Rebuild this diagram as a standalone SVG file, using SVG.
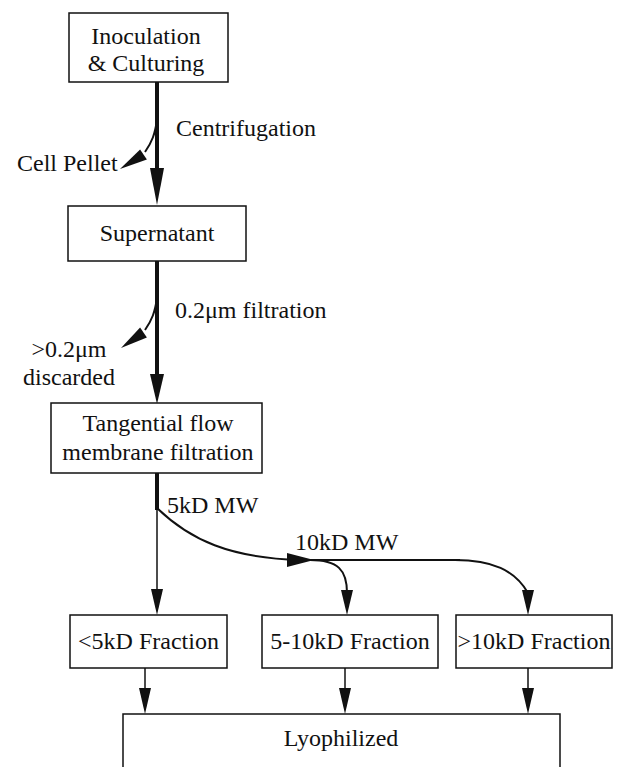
<svg xmlns="http://www.w3.org/2000/svg" width="622" height="767" viewBox="0 0 622 767">
<style>
text{font-family:"Liberation Serif","Times New Roman",serif;font-size:24px;fill:#111}
.c{text-anchor:middle}
.box{fill:#fff;stroke:#111;stroke-width:1.5}
.thick{stroke:#111;stroke-width:4;fill:none}
.med{stroke:#111;stroke-width:2;fill:none}
.thin{stroke:#111;stroke-width:1.5;fill:none}
.head{fill:#111}
</style>
<rect width="622" height="767" fill="#fff"/>
<g id="connectors">
  <line class="thick" x1="157" y1="82" x2="157" y2="172"/>
  <polygon class="head" points="150,168 164,168 157,205"/>
  <path class="med" d="M157,120 C155,134 152,142 145,152"/>
  <polygon class="head" points="146.9,159.4 140.1,149.4 120,169"/>
  <line class="thick" x1="157" y1="261" x2="157" y2="378"/>
  <polygon class="head" points="150,374 164,374 157,404"/>
  <path class="med" d="M157,298 C155,312 152,320 145,330"/>
  <polygon class="head" points="146.9,337.4 140.1,327.4 121,348"/>
  <line class="thick" x1="157" y1="473" x2="157" y2="510"/>
  <line class="thin" x1="157" y1="508" x2="157" y2="592"/>
  <polygon class="head" points="151,589 163,589 157,615"/>
  <path class="med" d="M157,508 C190,540 230,558 300,560 L460,560"/>
  <polygon class="head" points="287,553 287,567 314,560"/>
  <path class="med" d="M310,560 C338,560 347,570 347,593"/>
  <polygon class="head" points="341,590 353,590 347,615"/>
  <path class="med" d="M455,560 C492,560 515,570 528,593"/>
  <polygon class="head" points="522,590 534,590 528,615"/>
  <line class="thin" x1="145" y1="668" x2="145" y2="692"/>
  <polygon class="head" points="139,688 151,688 145,714"/>
  <line class="thin" x1="345" y1="668" x2="345" y2="692"/>
  <polygon class="head" points="339,688 351,688 345,714"/>
  <line class="thin" x1="528" y1="668" x2="528" y2="692"/>
  <polygon class="head" points="522,688 534,688 528,714"/>
  <text x="176" y="136">Centrifugation</text>
  <text x="17" y="171">Cell Pellet</text>
  <text x="175" y="318">0.2μm filtration</text>
  <text class="c" x="69" y="357">&gt;0.2μm</text>
  <text class="c" x="69" y="385">discarded</text>
  <text x="167" y="513">5kD MW</text>
  <text x="295" y="550">10kD MW</text>
</g>
<g id="inoculation">
  <rect class="box" x="69" y="13" width="159" height="69"/>
  <text class="c" x="146" y="44">Inoculation</text>
  <text class="c" x="146" y="71">&amp; Culturing</text>
</g>
<g id="supernatant">
  <rect class="box" x="68" y="206" width="178" height="55"/>
  <text class="c" x="157" y="241">Supernatant</text>
</g>
<g id="tangential">
  <rect class="box" x="51" y="403" width="211" height="70"/>
  <text class="c" x="158" y="431">Tangential flow</text>
  <text class="c" x="158" y="460">membrane filtration</text>
</g>
<g id="frac5">
  <rect class="box" x="70" y="615" width="157" height="53"/>
  <text class="c" x="148.5" y="649">&lt;5kD Fraction</text>
</g>
<g id="frac5to10">
  <rect class="box" x="262" y="615" width="176" height="53"/>
  <text class="c" x="350" y="649">5-10kD Fraction</text>
</g>
<g id="frac10">
  <rect class="box" x="456" y="615" width="156" height="53"/>
  <text class="c" x="534" y="649">&gt;10kD Fraction</text>
</g>
<g id="lyophilized">
  <rect class="box" x="123" y="714" width="437" height="70"/>
  <text class="c" x="341" y="746">Lyophilized</text>
</g>
</svg>
